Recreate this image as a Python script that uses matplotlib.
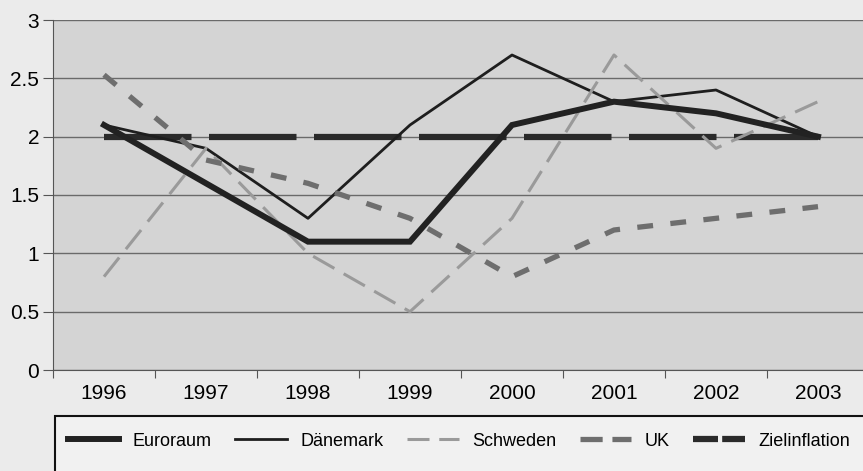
import matplotlib
matplotlib.use("Agg")
import matplotlib.pyplot as plt
from matplotlib.patches import Rectangle
from matplotlib.lines import Line2D

years = ["1996", "1997", "1998", "1999", "2000", "2001", "2002", "2003"]
euroraum = [2.1, 1.6, 1.1, 1.1, 2.1, 2.3, 2.2, 2.0]
daenemark = [2.1, 1.9, 1.3, 2.1, 2.7, 2.3, 2.4, 2.0]
schweden = [0.8, 1.9, 1.0, 0.5, 1.3, 2.7, 1.9, 2.3]
uk = [2.53, 1.8, 1.6, 1.3, 0.8, 1.2, 1.3, 1.4]
ziel = [2.0, 2.0, 2.0, 2.0, 2.0, 2.0, 2.0, 2.0]
yticks = [0, 0.5, 1, 1.5, 2, 2.5, 3]
ytick_labels = ["0", "0.5", "1", "1.5", "2", "2.5", "3"]
labels = ["Euroraum", "Dänemark", "Schweden", "UK", "Zielinflation"]

plt.rcParams['font.family'] = ['Liberation Sans', 'DejaVu Sans']
W, H = 863, 471
fig = plt.figure(figsize=(W/100, H/100), dpi=100, facecolor='#ebebeb')
ax = fig.add_axes([53/W, (H-370)/H, 816/W, 350/H])
ax.set_facecolor('#d4d4d4')
x = list(range(len(years)))

ax.plot(x, daenemark, color='#1e1e1e', lw=2.0, zorder=3)
ax.plot(x, schweden, color='#9a9a9a', lw=2.2, dashes=(8, 3.5), zorder=3)
ax.plot(x, uk, color='#6e6e6e', lw=3.8, dashes=(3, 3.3), zorder=3)
ax.plot(x, euroraum, color='#222222', lw=4.3, zorder=4, solid_joinstyle='miter')
ax.plot(x, ziel, color='#2a2a2a', lw=4.5, dashes=(14, 2.8), zorder=2)

ax.set_xlim(-0.5, 7.5)
ax.set_ylim(0, 3)
ax.set_yticks(yticks)
ax.set_yticklabels(ytick_labels)
ax.yaxis.grid(True, color='#6a6a6a', lw=1.0)
ax.set_axisbelow(True)
ax.set_xticks([i - 0.5 for i in range(len(years))], minor=False)
ax.set_xticklabels([])
ax.set_xticks(x, minor=True)
ax.set_xticklabels(years, minor=True)
ax.tick_params(axis='x', which='minor', length=0, pad=10, labelsize=15)
ax.tick_params(axis='x', which='major', length=6, direction='out', color='#555555')
ax.tick_params(axis='y', length=7, direction='out', color='#555555', labelsize=15, pad=3)
for s in ['top', 'right']:
    ax.spines[s].set_visible(False)
ax.spines['left'].set_color('#555555')
ax.spines['bottom'].set_color('#555555')

# legend box
fig.patches.append(Rectangle((55/W, -0.05), 1.0, (H-416)/H + 0.05, transform=fig.transFigure,
                             facecolor='#f1f1f1', edgecolor='#111111', lw=1.5, zorder=0))
handles = [
    Line2D([], [], color='#222222', lw=4.3),
    Line2D([], [], color='#1e1e1e', lw=2.0),
    Line2D([], [], color='#9a9a9a', lw=2.2, dashes=(7.2, 3.2)),
    Line2D([], [], color='#6e6e6e', lw=3.8, dashes=(4.2, 1.85)),
    Line2D([], [], color='#2a2a2a', lw=4.5, dashes=(4.0, 0.67)),
]
fig.legend(handles, labels, loc='center left', bbox_to_anchor=(68/W, (H-441)/H), ncol=5,
           frameon=False, fontsize=13, handlelength=2.85, columnspacing=1.3, handletextpad=0.75,
           borderaxespad=0, borderpad=0)

fig.savefig('out.png', dpi=100, facecolor=fig.get_facecolor())
